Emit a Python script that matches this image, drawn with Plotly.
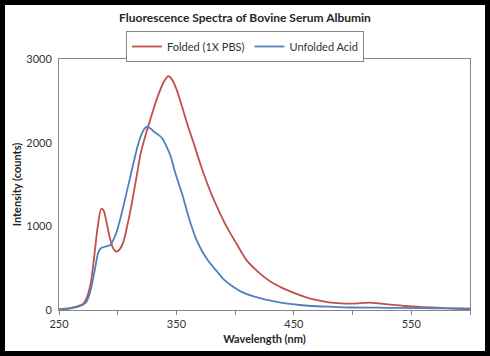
import plotly.graph_objects as go

# Folded (1X PBS) spectrum
folded_wl = [250, 255, 260, 265, 268, 271, 274, 277, 280, 283, 286, 288, 290, 293, 296, 299,
             302, 305, 308, 311, 316, 320, 325, 330, 334, 339, 343, 346, 350, 355, 360, 365,
             370, 375, 380, 385, 390, 395, 400, 405, 410, 420, 430, 440, 450, 460, 470, 480,
             490, 500, 510, 515, 520, 530, 545, 560, 575, 590, 600]
folded_int = [10, 15, 25, 40, 55, 80, 160, 320, 640, 1000, 1210, 1190, 1080, 880, 740, 697,
              730, 820, 1000, 1200, 1590, 1900, 2150, 2380, 2550, 2720, 2795, 2760, 2640, 2420, 2190, 1980,
              1760, 1560, 1380, 1220, 1070, 940, 820, 700, 590, 450, 340, 265, 205, 155, 118, 92,
              80, 77, 84, 87, 82, 68, 48, 35, 25, 15, 10]

# Unfolded Acid spectrum
unfolded_wl = [250, 255, 260, 265, 270, 273, 276, 278, 281, 283.5, 286, 290, 293.5, 296, 299,
               302, 305, 308, 311, 314, 317, 320, 323, 325, 328, 331, 335, 338, 341, 345, 349, 355,
               360, 367, 372, 378, 384, 390, 398, 405, 415, 427, 440, 455, 470, 484, 500, 520,
               540, 560, 580, 600]
unfolded_int = [5, 10, 20, 35, 60, 90, 190, 300, 520, 690, 740, 760, 775, 830, 930,
                1080, 1250, 1430, 1610, 1790, 1960, 2090, 2170, 2190, 2170, 2130, 2090, 2050, 1970, 1840, 1640, 1380,
                1130, 840, 700, 570, 470, 370, 280, 220, 165, 120, 85, 60, 45, 38, 30, 28,
                25, 22, 20, 18]

x_tickvals = [250, 300, 350, 400, 450, 500, 550, 600]
x_ticktext = ["250", "", "350", "", "450", "", "550", ""]
y_tickvals = [0, 1000, 2000, 3000]

FONT = "Lato"
AXIS_COLOR = "#868686"

fig = go.Figure()
fig.add_trace(go.Scatter(x=folded_wl, y=folded_int, name="Folded (1X PBS)", mode="lines",
                         line=dict(color="#C0504D", width=1.8, shape="spline", smoothing=0.8)))
fig.add_trace(go.Scatter(x=unfolded_wl, y=unfolded_int, name="Unfolded Acid", mode="lines",
                         line=dict(color="#4F81BD", width=1.8, shape="spline", smoothing=0.8)))

fig.update_layout(
    width=490, height=356,
    margin=dict(l=59, r=20, t=59, b=46),
    paper_bgcolor="black",
    plot_bgcolor="white",
    font=dict(family=FONT, size=11, color="#333333"),
    title=dict(text="<b>Fluorescence Spectra of Bovine Serum Albumin</b>",
               x=0.5, xref="container", xanchor="center",
               y=1 - 18 / 356, yref="container", yanchor="middle",
               font=dict(family=FONT, size=12, color="#262626")),
    showlegend=True,
    legend=dict(orientation="h", x=(245 - 59) / 411, xanchor="center",
                y=(310 - 31) / 251, yanchor="top",
                bordercolor=AXIS_COLOR, borderwidth=1, bgcolor="white",
                font=dict(family=FONT, size=11, color="#333333"),
                itemwidth=30, tracegroupgap=0),
    shapes=[dict(type="rect", xref="paper", yref="paper",
                 x0=(5 - 59) / 411, x1=(485 - 59) / 411,
                 y0=(310 - 351) / 251, y1=(310 - 5) / 251,
                 fillcolor="white", line=dict(width=0), layer="below")],
)

fig.update_xaxes(range=[250, 600], tickvals=x_tickvals, ticktext=x_ticktext,
                 ticks="outside", ticklen=4, tickcolor=AXIS_COLOR,
                 showline=True, linecolor=AXIS_COLOR, linewidth=1, mirror=True,
                 showgrid=False, zeroline=False,
                 title=dict(text="<b>Wavelength (nm)</b>", standoff=6,
                            font=dict(family=FONT, size=11, color="#262626")))
fig.update_yaxes(range=[0, 3000], tickvals=y_tickvals,
                 showline=True, linecolor=AXIS_COLOR, linewidth=1, mirror=True,
                 showgrid=False, zeroline=False, ticks="", ticklabelstandoff=4,
                 title=dict(text="<b>Intensity (counts)</b>", standoff=2,
                            font=dict(family=FONT, size=11, color="#262626")))

fig.write_html("out.html", config={"displayModeBar": False},
               post_script="document.body.style.margin='0';")
